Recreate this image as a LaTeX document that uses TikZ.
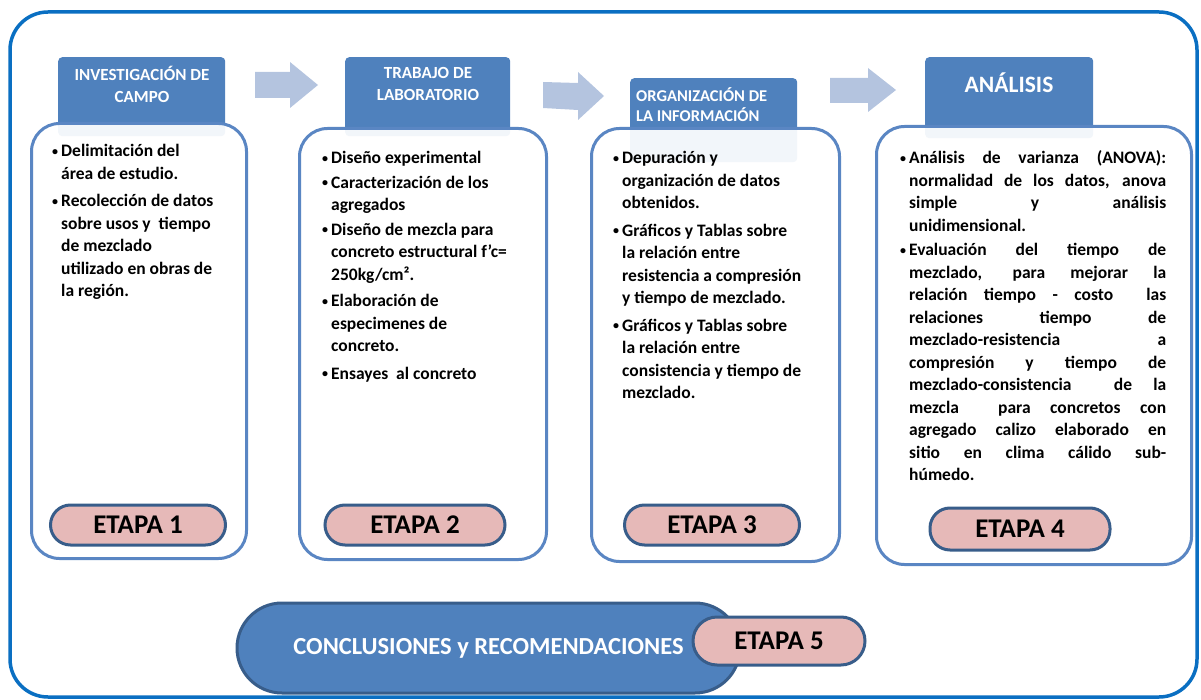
\documentclass[tikz,border=0pt]{standalone}
\usepackage{fontspec}
\setmainfont{Carlito}
\definecolor{hdrblue}{HTML}{4F81BD}
\definecolor{arrowblue}{HTML}{B4C4DF}
\definecolor{pillfill}{HTML}{E6B9B8}
\definecolor{pillline}{HTML}{385D8A}
\definecolor{boxline}{HTML}{5A86C3}
\definecolor{frameblue}{HTML}{0A6FC2}
\newcommand\bul{\makebox[9pt][l]{\raisebox{1.5pt}{\fontsize{12}{12}\selectfont\textbullet}}}
\newcommand\jl[1]{\makebox[257pt][s]{#1}}
\begin{document}
\begin{tikzpicture}[x=1pt,y=-1pt,
 hdr/.style={fill=hdrblue, rounded corners=4pt, inner sep=0pt, anchor=north west},
 hdrtxt/.style={text=white, font=\fontsize{17}{22}\selectfont\bfseries, align=center, inner sep=0pt},
 bodybox/.style={draw=boxline, line width=3pt, fill=white, fill opacity=0.93, rounded corners=28pt, inner sep=0pt, anchor=north west},
 bodytxt/.style={anchor=north west, inner sep=0pt, font=\fontsize{17.5}{22.5}\selectfont\bfseries},
 pill/.style={draw=pillline, line width=3pt, fill=pillfill, rounded corners=20pt, font=\fontsize{27}{30}\selectfont\bfseries, inner sep=0pt},
 concl/.style={draw=pillline, line width=3pt, fill=hdrblue, rounded corners=45pt, text=white, font=\fontsize{24.5}{28}\selectfont\bfseries, inner sep=0pt},
 arrowshape/.style={fill=arrowblue}]
\useasboundingbox (0,0) rectangle (1201,700);
% outer frame
\draw[frameblue, line width=3.5pt, rounded corners=38pt] (10,12) rectangle (1197,697);
% arrows
\fill[arrowshape] (255,72) -- (290,72) -- (290,62) -- (318,85) -- (290,108) -- (290,98) -- (255,98) -- cycle;
\fill[arrowshape] (543,82) -- (578,83) -- (578,72) -- (604,96) -- (578,120) -- (578,110) -- (543,108) -- cycle;
\fill[arrowshape] (830,78) -- (868,78) -- (868,68) -- (896,90) -- (868,112) -- (868,103) -- (830,103) -- cycle;
% headers
\node[hdr, minimum width=167pt, minimum height=79pt] (h1) at (58,57) {};
\node[hdr, minimum width=165pt, minimum height=79pt] (h2) at (345,57) {};
\node[hdr, minimum width=167pt, minimum height=84pt] (h3) at (630,78) {};
\node[hdr, minimum width=168pt, minimum height=81pt] (h4) at (925,57) {};
% body boxes
\node[bodybox, minimum width=215pt, minimum height=435pt] (b1) at (30,122) {};
\node[bodybox, minimum width=247pt, minimum height=431pt] (b2) at (298,127) {};
\node[bodybox, minimum width=248pt, minimum height=433pt] (b3) at (590,127) {};
\node[bodybox, minimum width=315pt, minimum height=438pt] (b4) at (875,125) {};
% header texts
\node[hdrtxt] (h1t) at (142,84) {INVESTIGACIÓN DE\\CAMPO};
\node[hdrtxt] (h2t) at (428,84) {TRABAJO DE\\LABORATORIO};
\node[hdrtxt, align=left, anchor=west, font=\fontsize{16.5}{20}\selectfont\bfseries] (h3t) at (636,105) {ORGANIZACIÓN DE\\LA INFORMACIÓN};
\node[hdrtxt, font=\fontsize{23.5}{28}\selectfont\bfseries] (h4t) at (1009,83) {ANÁLISIS};
% body texts
\node[bodytxt] (t1) at (52,141) {\begin{tabular}{@{}l@{}l@{}}
\bul & Delimitación del\\
 & área de estudio.\\[5pt]
\bul & Recolección de datos\\
 & sobre usos y\ \ tiempo\\
 & de mezclado\\
 & utilizado en obras de\\
 & la región.
\end{tabular}};
\node[bodytxt] (t2) at (322,148) {\begin{tabular}{@{}l@{}l@{}}
\bul & Diseño experimental\\[2pt]
\bul & Caracterización de los\\
 & agregados\\[2pt]
\bul & Diseño de mezcla para\\
 & concreto estructural f’c=\\
 & 250kg/cm².\\[4pt]
\bul & Elaboración de\\
 & especimenes de\\
 & concreto.\\[5pt]
\bul & Ensayes\ \ al concreto
\end{tabular}};
\node[bodytxt] (t3) at (613,148) {\begin{tabular}{@{}l@{}l@{}}
\bul & Depuración y\\
 & organización de datos\\
 & obtenidos.\\[5pt]
\bul & Gráficos y Tablas sobre\\
 & la relación entre\\
 & resistencia a compresión\\
 & y tiempo de mezclado.\\[5pt]
\bul & Gráficos y Tablas sobre\\
 & la relación entre\\
 & consistencia y tiempo de\\
 & mezclado.
\end{tabular}};
\node[bodytxt] (t4) at (900,148) {\begin{tabular}{@{}l@{}l@{}}
\bul & \jl{Análisis de varianza (ANOVA):}\\
 & \jl{normalidad de los datos, anova}\\
 & \jl{simple y análisis}\\
 & unidimensional.\\[2pt]
\bul & \jl{Evaluación del tiempo de}\\
 & \jl{mezclado, para mejorar la}\\
 & \jl{relación tiempo - costo\ \ las}\\
 & \jl{relaciones tiempo de}\\
 & \jl{mezclado-resistencia a}\\
 & \jl{compresión y tiempo de}\\
 & \jl{mezclado-consistencia\ \ de la}\\
 & \jl{mezcla\ \ para concretos con}\\
 & \jl{agregado calizo elaborado en}\\
 & \jl{sitio en clima cálido sub-}\\
 & húmedo.
\end{tabular}};
% etapa pills
\node[pill, minimum width=175pt, minimum height=40pt] (e1) at (138,525) {ETAPA 1};
\node[pill, minimum width=180pt, minimum height=40pt] (e2) at (415,525) {ETAPA 2};
\node[pill, minimum width=175pt, minimum height=40pt] (e3) at (712,525) {ETAPA 3};
\node[pill, minimum width=180pt, minimum height=42pt] (e4) at (1020,529) {ETAPA 4};
\node[concl, minimum width=503pt, minimum height=90pt] (c) at (488.5,648) {CONCLUSIONES y RECOMENDACIONES};
\node[pill, minimum width=172pt, minimum height=48pt, rounded corners=24pt] (e5) at (779,641) {ETAPA 5};
\end{tikzpicture}
\end{document}
